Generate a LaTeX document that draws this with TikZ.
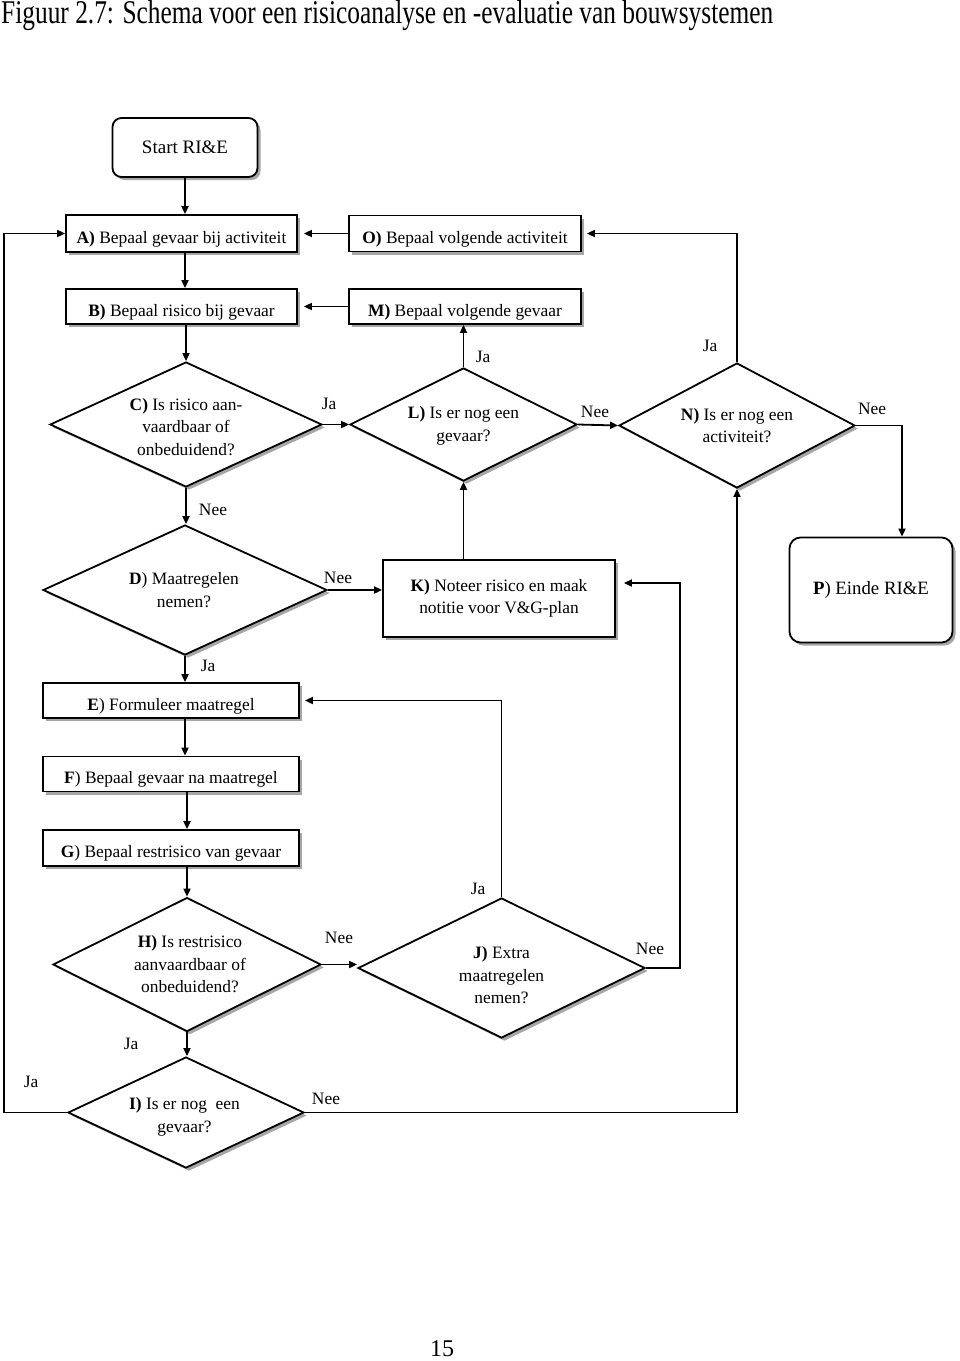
\documentclass[tikz,border=0pt]{standalone}
\usepackage{graphicx}
\usepackage{fontspec}
\setmainfont{Liberation Serif}
\usetikzlibrary{shapes.geometric,shadows,arrows.meta}
\begin{document}
\begin{tikzpicture}[x=1pt,y=-1pt,
  txt/.style={font=\fontsize{17.4}{22.5}\selectfont, inner sep=0pt},
  shad/.style={drop shadow={shadow xshift=3pt,shadow yshift=-3pt,opacity=0.7}},
  box/.style={txt, draw, line width=1.8pt, fill=white, shad, text height=19pt, text depth=0pt},
  rbox/.style={txt, draw, line width=1.8pt, fill=white, shad, rounded corners=9pt, align=center},
  dia/.style={diamond, draw, line width=1.8pt, fill=white, shad, inner sep=0pt},
  qtext/.style={txt, align=center},
  lbl/.style={txt},
  arr/.style={line width=1.8pt, -{Triangle[length=8pt,width=7pt]}}
]
\useasboundingbox (0,0) rectangle (960,1361);

% title and page number
\node[anchor=west, inner sep=0pt] (title) at (1,15.5)
  {\resizebox{772pt}{23pt}{\fontsize{28}{30}\selectfont Figuur 2.7: Schema voor een risicoanalyse en -evaluatie van bouwsystemen}};
\node[inner sep=0pt, font=\fontsize{24}{26}\selectfont] (pg) at (442,1349) {15};

% boxes
\node[rbox, minimum width=145, minimum height=59, font=\fontsize{19}{23}\selectfont] (start) at (185,147.5) {Start RI\&E};
\node[box, minimum width=231, minimum height=37] (A) at (181.5,233.5) {\textbf{A)} Bepaal gevaar bij activiteit};
\node[box, minimum width=231, minimum height=35] (B) at (181.5,306.5) {\textbf{B)} Bepaal risico bij gevaar};
\node[box, minimum width=232, minimum height=36] (O) at (465,233.5) {\textbf{O)} Bepaal volgende activiteit};
\node[box, minimum width=232, minimum height=35] (M) at (465,306.5) {\textbf{M)} Bepaal volgende gevaar};
\node[rbox, minimum width=232, minimum height=77, rounded corners=0pt] (K) at (499,598.5) {\textbf{K)} Noteer risico en maak\\notitie voor V\&G-plan};
\node[rbox, minimum width=163, minimum height=105, rounded corners=11pt, font=\fontsize{18.8}{23}\selectfont] (P) at (871,590) {\textbf{P}) Einde RI\&E};
\node[box, minimum width=256, minimum height=35] (E) at (171,700.5) {\textbf{E}) Formuleer maatregel};
\node[box, minimum width=256, minimum height=35] (F) at (171,774) {\textbf{F}) Bepaal gevaar na maatregel};
\node[box, minimum width=256, minimum height=36] (G) at (171,848) {\textbf{G}) Bepaal restrisico van gevaar};

% diamonds
\node[dia, minimum width=272, minimum height=125] (C) at (186,424.5) {};
\node[qtext] (Ct) at (186,427) {\textbf{C)} Is risico aan-\\vaardbaar of\\onbeduidend?};
\node[dia, minimum width=227, minimum height=113] (L) at (463.5,424.5) {};
\node[qtext] (Lt) at (463.5,426) {\textbf{L)} Is er nog een\\gevaar?};
\node[dia, minimum width=236, minimum height=125] (N) at (737,425.5) {};
\node[qtext] (Nt) at (737,425.5) {\textbf{N)} Is er nog een\\activiteit?};
\node[dia, minimum width=284, minimum height=130] (D) at (185,590) {};
\node[qtext] (Dt) at (184,590) {\textbf{D}) Maatregelen\\nemen?};
\node[dia, minimum width=268, minimum height=134] (H) at (187,964.5) {};
\node[qtext] (Ht) at (190,964.5) {\textbf{H)} Is restrisico\\aanvaardbaar of\\onbeduidend?};
\node[dia, minimum width=287, minimum height=140] (J) at (501.5,968) {};
\node[qtext] (Jt) at (501.5,975.5) {\textbf{J)} Extra\\maatregelen\\nemen?};
\node[dia, minimum width=236, minimum height=111] (I) at (186,1112.5) {};
\node[qtext] (It) at (184.5,1117) {\textbf{I)} Is er nog\ \ een\\gevaar?};

% helper coordinates
\coordinate (lw) at (4,1112.5);
\coordinate (jr) at (680,583);

% connectors
\draw[arr] (start.south) -- (start.south |- A.north);
\draw[arr] (A.south -| start.south) -- (B.north -| start.south);
\draw[arr] (B.south -| C.north) -- (C.north);
\draw[arr, shorten >=6pt] (O.west) -- (A.east);
\draw[arr, shorten >=6pt] (M.west) -- (B.east);
\draw[arr] (C.east) -- (L.west);
\draw[arr] (L.north) -- (L.north |- M.south);
\draw[arr] (L.east) -- (N.west);
\draw[arr, shorten >=5pt] (N.north) |- (O.east);
\draw[arr] (N.east) -| ([xshift=31pt]P.north);
\draw[arr] (C.south) -- (C.south |- D.north);
\draw[arr] (D.east) -- (D.east -| K.west);
\draw[arr] (L.south |- K.north) -- (L.south);
\draw[arr] (D.south) -- (D.south |- E.north);
\draw[arr] (E.south -| D.south) -- (F.north -| D.south);
\draw[arr] (F.south -| H.north) -- (G.north -| H.north);
\draw[arr] (G.south -| H.north) -- (H.north);
\draw[arr] (H.east) -- (H.east -| J.west);
\draw[arr, shorten >=5pt] (J.north) |- (E.east);
\draw[arr, shorten >=8pt] (J.east) -| (jr) -- (jr -| K.east);
\draw[arr] (H.south) -- (H.south |- I.north);
\draw[arr] (I.west) -- (lw) |- (A.west);
\draw[arr] (I.east) -| (N.south);

% connector labels
\node[lbl] (l1) at (329,404) {Ja};
\node[lbl] (l2) at (483,357) {Ja};
\node[lbl] (l3) at (710,346) {Ja};
\node[lbl] (l4) at (595,412) {Nee};
\node[lbl] (l5) at (872,409) {Nee};
\node[lbl] (l6) at (213,510) {Nee};
\node[lbl] (l7) at (338,578) {Nee};
\node[lbl] (l8) at (208,666) {Ja};
\node[lbl] (l9) at (339,938) {Nee};
\node[lbl] (l10) at (478,889) {Ja};
\node[lbl] (l11) at (650,949) {Nee};
\node[lbl] (l12) at (131,1044) {Ja};
\node[lbl] (l13) at (31,1082) {Ja};
\node[lbl] (l14) at (326,1099) {Nee};
\end{tikzpicture}
\end{document}
